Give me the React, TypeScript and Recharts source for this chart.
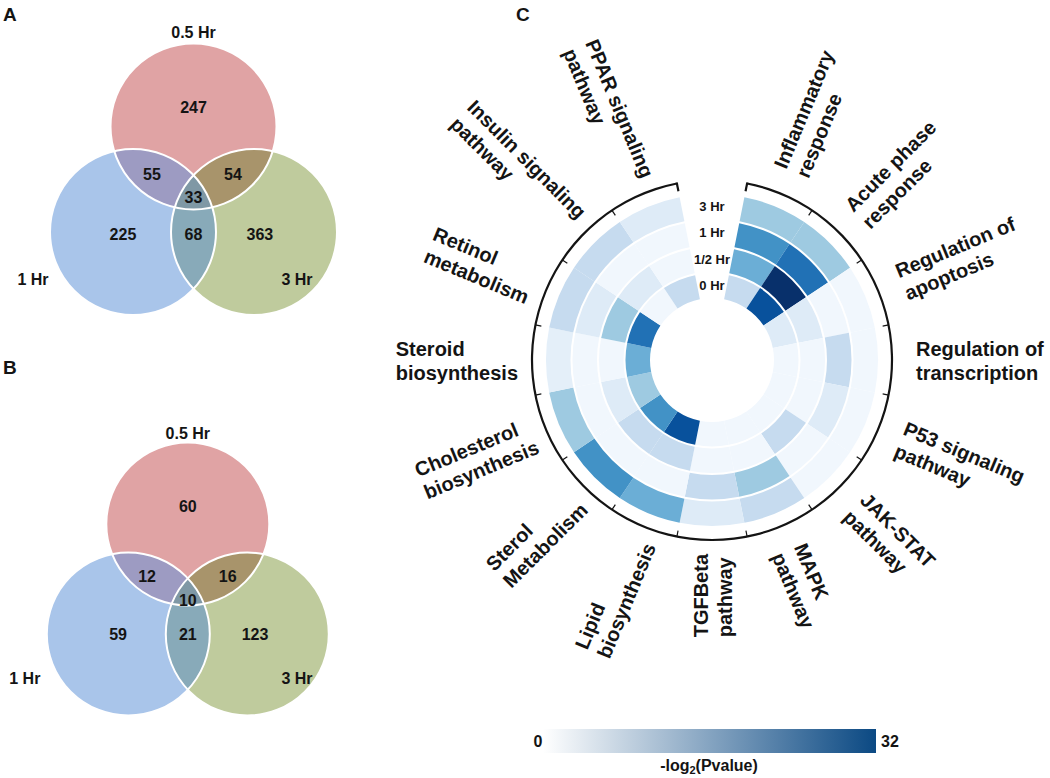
import React from 'react';
import { ScatterChart, Scatter, XAxis, YAxis, PieChart, Pie, Cell, BarChart, Bar } from 'recharts';

const FONT = "'Liberation Sans', Arial, Helvetica, sans-serif";
const INK = '#141414';

// ---------------- data ----------------
const SET_NAMES = ['0.5 Hr', '1 Hr', '3 Hr'];
// region order: 0.5 only, 0.5∩1, 0.5∩3, all three, 1 only, 1∩3, 3 only
const VENN_A_COUNTS = [247, 55, 54, 33, 225, 68, 363];
const VENN_B_COUNTS = [60, 12, 16, 10, 59, 21, 123];

const PATHWAYS = [
  'Inflammatory\nresponse',
  'Acute phase\nresponse',
  'Regulation of\napoptosis',
  'Regulation of\ntranscription',
  'P53 signaling\npathway',
  'JAK-STAT\npathway',
  'MAPK\npathway',
  'TGFBeta\npathway',
  'Lipid\nbiosynthesis',
  'Sterol\nMetabolism',
  'Cholesterol\nbiosynthesis',
  'Steroid\nbiosynthesis',
  'Retinol\nmetabolism',
  'Insulin signaling\npathway',
  'PPAR signaling\npathway',
];
const TIMEPOINTS = ['0 Hr', '1/2 Hr', '1 Hr', '3 Hr'];
// -log2(P value) per pathway (same order as PATHWAYS)
const NEGLOG2P_0HR = [8, 28, 4, 1, 1, 1, 1, 1, 28, 20, 12, 16, 24, 1, 8];
const NEGLOG2P_HALFHR = [16, 32, 4, 1, 1, 8, 1, 1, 8, 8, 4, 1, 12, 4, 1];
const NEGLOG2P_1HR = [20, 24, 1, 8, 4, 1, 12, 8, 1, 1, 1, 1, 4, 1, 1];
const NEGLOG2P_3HR = [12, 12, 1, 1, 1, 1, 8, 4, 16, 20, 12, 3, 8, 8, 4];
const COLOR_SCALE_TICKS = [0, 32];

// ---------------- styles / layout ----------------
const SET_COLORS = ['#e0a3a4', '#a9c5ea', '#bfcb9d'];
const OVERLAP_COLORS = { rb: '#9d9bc2', rg: '#a8946b', bg: '#88aab9', rbg: '#7f98a5' };

const VENN_A_LAYOUT = {
  left: 0, top: 0, width: 380, height: 360, ox: 193.5, oy: 232, k: 83, r: 1,
  centers: [[0, 1.271], [-0.729, 0], [0.729, 0]],
  countPos: [[0, 1.494], [-0.5, 0.687], [0.476, 0.687], [0, 0.41], [-0.85, -0.036], [0, -0.036], [0.8, -0.036]],
  setPos: [[0, 2.4], [-1.934, -0.578], [1.247, -0.578]],
};
const VENN_B_LAYOUT = {
  left: 0, top: 360, width: 380, height: 418, ox: 187.8, oy: 274, k: 81.5, r: 1,
  centers: [[0, 1.35], [-0.73, 0], [0.73, 0]],
  countPos: [[0, 1.57], [-0.5, 0.71], [0.49, 0.71], [0, 0.417], [-0.856, -0.012], [0, -0.012], [0.825, -0.012]],
  setPos: [[0, 2.466], [-2.0, -0.54], [1.34, -0.54]],
};

const HEAT = {
  left: 362, top: 10, size: 700, inner: 61, step: 26.5, gap: 1, arcR: 180,
  labelRightR: 204, labelLeftR: 194, gapDeg: 22.5,
};

const BLUES = ['#f7fbff', '#deebf7', '#c6dbef', '#9ecae1', '#6baed6', '#4292c6', '#2171b5', '#08519c', '#08306b'];
const SCALE_MAX = COLOR_SCALE_TICKS[COLOR_SCALE_TICKS.length - 1];

function hexRgb(h: string) {
  const n = parseInt(h.slice(1), 16);
  return [(n >> 16) & 255, (n >> 8) & 255, n & 255];
}
function scoreColor(v: number) {
  const t = Math.max(0, Math.min(1, v / SCALE_MAX)) * (BLUES.length - 1);
  const i = Math.min(BLUES.length - 2, Math.floor(t));
  const f = t - i;
  const a = hexRgb(BLUES[i]);
  const b = hexRgb(BLUES[i + 1]);
  return `rgb(${a.map((c, j) => Math.round(c + (b[j] - c) * f)).join(',')})`;
}

let measureCtx: any = null;
function textWidth(s: string, font: string) {
  if (typeof document === 'undefined') return s.length * 11;
  if (!measureCtx) measureCtx = document.createElement('canvas').getContext('2d');
  measureCtx.font = font;
  return measureCtx.measureText(s).width;
}

// ---------------- Venn ----------------
function Venn({ id, layout, counts }: any) {
  const { left, top, width, height, ox, oy, k, r, centers, countPos, setPos } = layout;
  const xDomain = [-ox / k, (width - ox) / k];
  const yDomain = [-(height - oy) / k, oy / k];
  const rpx = r * k;
  const circleData = centers.map((c: number[], i: number) => ({ x: c[0], y: c[1], idx: i }));
  const overlapData = [
    { x: centers[1][0], y: centers[1][1], clips: [0], fill: OVERLAP_COLORS.rb },
    { x: centers[2][0], y: centers[2][1], clips: [0], fill: OVERLAP_COLORS.rg },
    { x: centers[2][0], y: centers[2][1], clips: [1], fill: OVERLAP_COLORS.bg },
    { x: centers[2][0], y: centers[2][1], clips: [0, 1], fill: OVERLAP_COLORS.rbg },
  ];
  const countData = counts.map((v: number, i: number) => ({ x: countPos[i][0], y: countPos[i][1], label: String(v) }));
  const setData = SET_NAMES.map((n, i) => ({ x: setPos[i][0], y: setPos[i][1], label: n }));

  const CircleShape = (p: any) => (
    <g>
      <defs>
        <clipPath id={`${id}-clip-${p.payload.idx}`}>
          <circle cx={p.cx} cy={p.cy} r={rpx} />
        </clipPath>
      </defs>
      <circle cx={p.cx} cy={p.cy} r={rpx} fill={SET_COLORS[p.payload.idx]} />
    </g>
  );
  const OverlapShape = (p: any) => {
    let el: any = <circle cx={p.cx} cy={p.cy} r={rpx} fill={p.payload.fill} />;
    for (const c of p.payload.clips) el = <g clipPath={`url(#${id}-clip-${c})`}>{el}</g>;
    return el;
  };
  const OutlineShape = (p: any) => (
    <circle cx={p.cx} cy={p.cy} r={rpx} fill="none" stroke="#ffffff" strokeWidth={2} />
  );
  const TextShape = (p: any) => (
    <text x={p.cx} y={p.cy} textAnchor="middle" dominantBaseline="central" fontFamily={FONT}
      fontWeight={700} fontSize={16} fill={INK}>{p.payload.label}</text>
  );

  return (
    <div style={{ position: 'absolute', left, top }}>
      <ScatterChart width={width} height={height} margin={{ top: 0, right: 0, bottom: 0, left: 0 }}>
        <XAxis type="number" dataKey="x" domain={xDomain} allowDataOverflow hide />
        <YAxis type="number" dataKey="y" domain={yDomain} allowDataOverflow hide />
        <Scatter data={circleData} shape={CircleShape} isAnimationActive={false} />
        <Scatter data={overlapData} shape={OverlapShape} isAnimationActive={false} />
        <Scatter data={circleData} shape={OutlineShape} isAnimationActive={false} />
        <Scatter data={countData} shape={TextShape} isAnimationActive={false} />
        <Scatter data={setData} shape={TextShape} isAnimationActive={false} />
      </ScatterChart>
    </div>
  );
}

// ---------------- Circular heatmap ----------------
const RAD = Math.PI / 180;
const LABEL_FONT_SIZE = 20;
const LABEL_FONT = `bold ${LABEL_FONT_SIZE}px 'Liberation Sans', Arial, sans-serif`;

function polar(cx: number, cy: number, r: number, ang: number) {
  return [cx + r * Math.cos(ang * RAD), cy - r * Math.sin(ang * RAD)];
}

function ringNameEl(p: any, name: string) {
  return (
    <text x={p.cx} y={p.cy - (p.innerRadius + p.outerRadius) / 2} textAnchor="middle" dominantBaseline="central"
      fontFamily={FONT} fontWeight={700} fontSize={13} fill={INK}>{name}</text>
  );
}

const ringLabel = (name: string) => (p: any) => (p.index === 0 ? ringNameEl(p, name) : <g />);

const outerLabel = (name: string, count: number) => (p: any) => {
  const { cx, cy, midAngle, startAngle, endAngle, index } = p;
  const tick = (ang: number, r0: number, r1: number, w: number, key: string) => {
    const [x1, y1] = polar(cx, cy, r0, ang);
    const [x2, y2] = polar(cx, cy, r1, ang);
    return <line key={key} x1={x1} y1={y1} x2={x2} y2={y2} stroke={INK} strokeWidth={w} />;
  };
  const ticks = [];
  if (index === 0) ticks.push(tick(startAngle, HEAT.arcR - 8, HEAT.arcR + 1, 2.2, 's'));
  else ticks.push(tick(startAngle, HEAT.arcR - 6, HEAT.arcR, 1.2, 's'));
  if (index === count - 1) ticks.push(tick(endAngle, HEAT.arcR - 8, HEAT.arcR + 1, 2.2, 'e'));

  const theta = (((90 - midAngle) % 360) + 360) % 360;
  const right = theta < 179.9;
  const R = right ? HEAT.labelRightR : HEAT.labelLeftR;
  const [x, y] = polar(cx, cy, R, midAngle);
  const rot = right ? theta - 90 : theta - 270;
  const lines = String(p.payload.name).split('\n');
  const maxW = Math.max(...lines.map((l) => textWidth(l, LABEL_FONT)));
  const xs = right ? 0 : -maxW;
  const lineH = 24;
  const first = -4 - ((lines.length - 2) * lineH) / 2;

  return (
    <g>
      {index === 0 ? ringNameEl(p, name) : null}
      {ticks}
      <text transform={`translate(${x} ${y}) rotate(${rot})`} fontFamily={FONT} fontWeight={700}
        fontSize={LABEL_FONT_SIZE} fill={INK}>
        {lines.map((ln, j) => (
          <tspan key={j} x={xs} y={first + j * lineH}>{ln}</tspan>
        ))}
      </text>
    </g>
  );
};

const RINGS = [NEGLOG2P_0HR, NEGLOG2P_HALFHR, NEGLOG2P_1HR, NEGLOG2P_3HR];

function Heatmap() {
  const L = HEAT;
  const c = L.size / 2;
  const start = 90 - L.gapDeg / 2;
  const end = start - (360 - L.gapDeg);
  const ringData = RINGS.map((vals) => PATHWAYS.map((name, i) => ({ name, slot: 1, score: vals[i] })));
  return (
    <div style={{ position: 'absolute', left: L.left, top: L.top }}>
      <PieChart width={L.size} height={L.size} margin={{ top: 0, right: 0, bottom: 0, left: 0 }}>
        {ringData.map((data, ri) => (
          <Pie
            key={ri}
            data={data}
            dataKey="slot"
            nameKey="name"
            cx={c}
            cy={c}
            innerRadius={L.inner + ri * L.step + L.gap}
            outerRadius={L.inner + (ri + 1) * L.step - L.gap}
            startAngle={start}
            endAngle={end}
            stroke="none"
            isAnimationActive={false}
            labelLine={false}
            label={ri === RINGS.length - 1 ? outerLabel(TIMEPOINTS[ri], data.length) : ringLabel(TIMEPOINTS[ri])}
          >
            {data.map((d, i) => (
              <Cell key={i} fill={scoreColor(d.score)} />
            ))}
          </Pie>
        ))}
        <Pie
          data={[{ name: 'frame', slot: 1 }]}
          dataKey="slot"
          cx={c}
          cy={c}
          innerRadius={L.arcR - 1.1}
          outerRadius={L.arcR + 1.1}
          startAngle={start}
          endAngle={end}
          fill={INK}
          stroke="none"
          isAnimationActive={false}
        />
      </PieChart>
    </div>
  );
}

// ---------------- color bar ----------------
function ColorBar() {
  const data = [{ name: 'scale', value: SCALE_MAX }];
  return (
    <div style={{ position: 'absolute', left: 543, top: 729 }}>
      <BarChart layout="vertical" width={333} height={24} data={data} margin={{ top: 0, right: 0, bottom: 0, left: 0 }}
        barCategoryGap={0}>
        <defs>
          <linearGradient id="cbarGrad" x1="0" y1="0" x2="1" y2="0">
            <stop offset="0" stopColor="#ffffff" />
            <stop offset="1" stopColor="#0b4983" />
          </linearGradient>
        </defs>
        <XAxis type="number" domain={[COLOR_SCALE_TICKS[0], SCALE_MAX]} allowDataOverflow hide />
        <YAxis type="category" dataKey="name" hide />
        <Bar dataKey="value" fill="url(#cbarGrad)" isAnimationActive={false} />
      </BarChart>
    </div>
  );
}

export default function App() {
  return (
    <div style={{ position: 'absolute', left: 0, top: 0, width: 1050, height: 778, overflow: 'hidden', background: '#ffffff', fontFamily: FONT }}>
      <Venn id="vennA" layout={VENN_A_LAYOUT} counts={VENN_A_COUNTS} />
      <Venn id="vennB" layout={VENN_B_LAYOUT} counts={VENN_B_COUNTS} />
      <Heatmap />
      <ColorBar />
      <svg width={1050} height={778} style={{ position: 'absolute', left: 0, top: 0, pointerEvents: 'none' }}>
        <g fontFamily={FONT} fontWeight={700} fill={INK}>
          <text x={3} y={21} fontSize={19}>A</text>
          <text x={3} y={374} fontSize={19}>B</text>
          <text x={516} y={21} fontSize={19}>C</text>
          <text x={538} y={747} fontSize={16} textAnchor="middle">{COLOR_SCALE_TICKS[0]}</text>
          <text x={890} y={747} fontSize={16} textAnchor="middle">{COLOR_SCALE_TICKS[1]}</text>
          <text x={709} y={771} fontSize={16} textAnchor="middle">
            -log<tspan fontSize={11} dy={3}>2</tspan><tspan dy={-3}>(Pvalue)</tspan>
          </text>
        </g>
      </svg>
    </div>
  );
}
